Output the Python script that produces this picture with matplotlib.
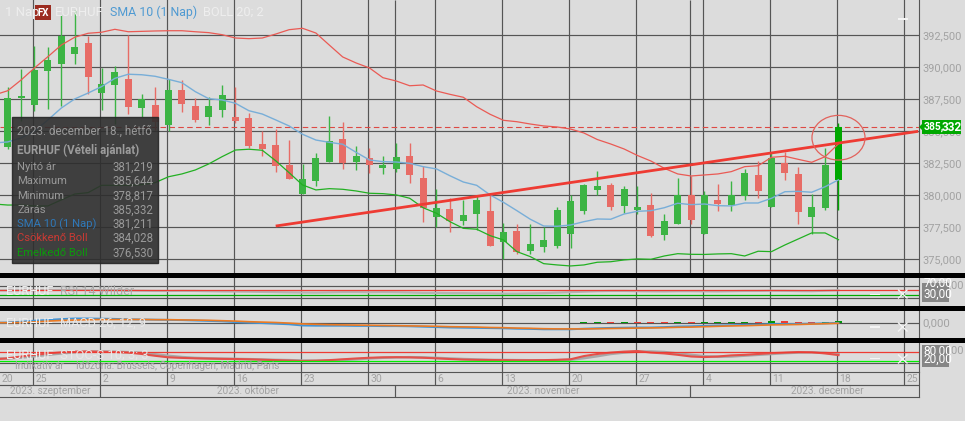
import numpy as np
import matplotlib
matplotlib.use('Agg')
import matplotlib.pyplot as plt
from matplotlib.patches import Ellipse, Rectangle, Polygon

# daily candles, 25 Sep 2023 = day 0, 18 Dec 2023 = day 60
days = np.arange(-2, 61)
opens = [383.80, 387.60, 387.06, 389.74, 390.26, 391.04, 391.90, 387.99, 388.62, 389.09, 386.82, 387.06, 385.49, 388.23, 386.98, 386.12,
         386.67, 386.12, 386.04, 384.01, 383.93, 382.37, 380.10, 381.12, 382.60, 384.40, 382.60, 382.92, 382.14, 382.06, 383.07, 381.35,
         378.31, 378.93, 377.99, 378.54, 378.78, 376.35, 377.21, 375.65, 375.96, 376.04, 376.98, 378.78, 380.42, 380.81, 379.17, 378.85,
         379.22, 376.90, 377.76, 380.03, 376.98, 379.64, 379.24, 379.95, 381.59, 379.09, 382.53, 381.67, 378.31, 379.01, 381.22]
highs = [388.46, 389.87, 391.67, 391.59, 394.09, 394.48, 392.47, 389.97, 390.10, 392.53, 387.92, 388.44, 389.09, 389.01, 387.60, 387.68,
         388.62, 388.46, 386.43, 385.02, 385.18, 384.32, 382.45, 383.33, 386.20, 385.73, 383.85, 383.70, 383.07, 384.09, 384.09, 382.29,
         380.49, 379.79, 379.64, 380.03, 380.03, 377.84, 377.76, 377.76, 377.53, 379.09, 380.03, 380.89, 381.90, 380.96, 380.73, 380.73,
         380.18, 378.54, 381.35, 381.51, 380.34, 380.89, 381.12, 382.06, 382.68, 383.31, 383.39, 382.21, 380.10, 383.70, 385.64]
lows = [383.62, 385.83, 386.59, 386.77, 386.98, 390.26, 387.92, 386.67, 385.57, 386.35, 386.12, 385.10, 385.02, 386.51, 385.73, 385.49,
        386.12, 385.65, 383.70, 383.07, 381.82, 381.28, 380.10, 380.73, 382.60, 382.06, 381.98, 381.74, 381.67, 381.82, 380.96, 377.92,
        377.53, 377.14, 377.68, 377.29, 376.04, 375.03, 375.42, 375.42, 375.57, 375.89, 375.89, 378.54, 380.03, 378.85, 378.62, 378.54,
        376.74, 376.51, 377.76, 377.76, 376.98, 378.78, 378.78, 379.64, 379.79, 379.09, 381.20, 377.76, 376.98, 378.85, 378.82]
closes = [387.60, 387.76, 389.79, 390.57, 392.47, 391.59, 389.24, 388.70, 389.63, 386.90, 387.50, 385.73, 388.23, 387.13, 385.89, 386.98,
          387.84, 385.81, 383.85, 383.62, 382.29, 381.28, 381.28, 382.92, 384.24, 382.50, 383.07, 382.37, 382.37, 382.99, 381.59, 379.01,
          379.01, 377.99, 378.46, 379.64, 376.04, 377.14, 375.57, 376.20, 376.51, 378.85, 379.56, 380.81, 380.73, 379.09, 380.49, 379.09,
          376.82, 377.99, 380.03, 378.07, 380.03, 379.32, 380.03, 381.74, 380.34, 382.92, 381.74, 378.70, 379.09, 382.37, 385.33]

# indicator lines start one day earlier
line_days = np.arange(-3, 61)
boll_up = [387.84, 388.17, 389.01, 389.95, 390.83, 391.74, 392.35, 392.66, 392.74, 392.97, 392.78, 392.81, 392.84, 392.86, 392.86, 392.78,
           392.71, 392.55, 392.29, 392.24, 392.29, 392.60, 392.94, 393.05, 392.68, 391.74, 390.81, 390.34, 389.95, 389.19, 388.93, 388.56,
           388.62, 388.15, 387.89, 387.66, 386.92, 386.33, 385.86, 385.75, 385.57, 385.42, 385.34, 385.18, 384.87, 384.36, 384.01, 383.62,
           383.11, 382.68, 382.11, 381.67, 381.51, 381.59, 381.67, 381.85, 382.24, 382.31, 382.97, 383.05, 382.81, 382.58, 383.02, 384.03]
sma10 = [384.09, 384.17, 384.48, 385.02, 385.89, 386.82, 387.53, 387.99, 388.49, 389.14, 389.46, 389.42, 389.30, 389.06, 388.80, 388.10,
         387.55, 387.45, 387.19, 386.61, 386.35, 385.89, 385.42, 384.77, 384.32, 384.14, 383.99, 383.36, 382.76, 382.63, 382.60, 382.50,
         382.24, 382.06, 381.53, 381.04, 380.78, 380.03, 379.45, 378.80, 378.13, 377.60, 377.58, 377.68, 377.94, 378.15, 378.13, 378.54,
         378.75, 378.80, 379.03, 379.38, 379.27, 379.32, 379.19, 379.17, 379.40, 379.40, 379.77, 380.28, 380.31, 380.24, 380.67, 381.21]
boll_low = [379.32, 379.24, 379.24, 379.17, 379.17, 379.64, 380.10, 380.21, 380.78, 380.78, 380.78, 380.83, 380.99, 381.45, 381.67, 381.98,
            382.45, 383.02, 383.54, 383.60, 383.52, 382.70, 381.77, 380.81, 380.42, 380.52, 380.47, 380.34, 380.16, 380.13, 380.03, 379.77,
            379.03, 378.60, 377.94, 377.42, 377.35, 376.85, 376.51, 375.60, 375.21, 374.66, 374.56, 374.48, 374.56, 374.77, 374.81, 374.95,
            375.03, 375.00, 375.26, 375.44, 375.39, 375.38, 375.42, 375.44, 375.26, 375.63, 375.60, 376.12, 376.59, 377.06, 377.06, 376.53]

# hand drawn objects on the chart
trend_days = [18, 65.95]
trend_prices = [377.60, 385.0]
circle_day, circle_price = 60, 384.5
last_price = 385.332

rsi = [64, 64, 65, 66, 67, 68, 69, 68, 67, 66, 64, 62, 60, 60, 61, 60, 58, 56, 55, 54, 52, 50, 48, 47, 46, 48, 50, 50, 49, 50, 49, 47,
       44, 44, 42, 42, 40, 40, 38, 38, 40, 42, 46, 50, 54, 58, 60, 60, 58, 57, 56, 58, 58, 57, 56, 58, 60, 60, 62, 61, 59, 58, 62, 66]
macd = [0.3, 0.4, 0.8, 1.3, 1.7, 2.1, 2.4, 2.4, 2.3, 2.2, 2.0, 1.9, 1.8, 1.7, 1.6, 1.4, 1.2, 1.0, 0.6, 0.3, 0.1, -0.2, -0.5, -1.1, -1.2, -1.2,
        -1.2, -1.3, -1.3, -1.4, -1.4, -1.5, -1.7, -1.9, -2.1, -2.2, -2.3, -2.4, -2.5, -2.7, -2.8, -3.0, -3.0, -3.0, -2.7, -2.5, -2.3, -2.2,
        -2.1, -2.1, -1.9, -1.6, -1.5, -1.3, -1.1, -1.0, -0.8, -0.7, -0.4, -0.4, -0.3, -0.2, 0.0, 0.2]
macd_signal = [0.3, 0.3, 0.4, 0.7, 1.1, 1.4, 1.6, 1.8, 1.9, 1.9, 1.9, 1.9, 1.8, 1.8, 1.7, 1.6, 1.5, 1.3, 1.1, 0.8, 0.6, 0.4, 0.1, -0.3, -0.5,
               -0.7, -0.8, -0.9, -1.0, -1.1, -1.2, -1.3, -1.4, -1.5, -1.7, -1.8, -1.9, -2.1, -2.2, -2.4, -2.5, -2.7, -2.8, -2.8, -2.8, -2.7,
               -2.6, -2.5, -2.4, -2.3, -2.2, -2.0, -1.9, -1.7, -1.5, -1.3, -1.2, -1.0, -0.8, -0.7, -0.6, -0.4, -0.2, 0.0]
hist_days = np.arange(41, 61)
hist_values = [0.65, 0.65, 0.65, 0.65, 0.65, 0.65, 0.65, 0.65, 0.65, 0.65, 0.65, 0.65, 0.65, 0.65, 1.15, 1.15, 0.65, 0.65, 0.65, 1.15]
hist_colors = ['g', 'g', 'r', 'g', 'r', 'r', 'r', 'g', 'r', 'g', 'g', 'g', 'g', 'r', 'g', 'r', 'r', 'r', 'g', 'g']
stoch_k = [30, 37, 50, 62, 72, 80, 85, 86, 84, 82, 78, 68, 55, 44, 40, 37, 35, 33, 32, 30, 27, 24, 21, 18, 20, 24, 30, 36, 41, 44, 45, 44, 41,
           37, 32, 28, 26, 25, 24, 23, 23, 24, 26, 30, 53, 68, 78, 85, 89, 78, 72, 62, 50, 46, 50, 58, 62, 68, 74, 78, 82, 80, 72, 60]
stoch_d = [36, 35, 42, 52, 62, 72, 80, 84, 85, 84, 81, 76, 66, 55, 46, 40, 37, 35, 33, 31, 29, 26, 24, 21, 20, 21, 25, 30, 36, 41, 44, 45, 44,
           40, 36, 32, 29, 26, 25, 24, 23, 23, 24, 27, 38, 52, 68, 78, 85, 86, 82, 72, 62, 52, 48, 50, 56, 62, 68, 74, 78, 80, 76, 68]

price_ticks = [375, 377.5, 380, 382.5, 385, 387.5, 390, 392.5]
week_days = [0, 5, 10, 15, 20, 25, 30, 35, 40, 45, 50, 55, 60, 65]
week_labels = ['25', '2', '9', '16', '23', '30', '6', '13', '20', '27', '4', '11', '18', '25']
month_days = [5, 27, 49]
month_centers = [1.16, 15.93, 37.95, 59.2]
month_labels = ['2023. szeptember', '2023. október', '2023. november', '2023. december']

BG = '#dcdcdc'
GRID = '#555555'
GREY = '#a2a2a2'
UP = '#3cb444'
DOWN = '#e76c66'
RED = '#ee3b33'
W, H = 965, 421
PX = 1 / 13.4   # one pixel in days
XLIM = (-34.5 * PX, (919.3 - 34.5) * PX)

plt.rcParams['font.family'] = ['Roboto', 'DejaVu Sans']
fig = plt.figure(figsize=(W / 100, H / 100), dpi=100, facecolor=BG)


def fx(x):
    return x / W


def fy(y):
    return 1 - y / H


def pane(top, bottom, ylim):
    ax = fig.add_axes([0, fy(bottom), 919.3 / W, (bottom - top) / H])
    ax.set_xlim(*XLIM)
    ax.set_ylim(*ylim)
    ax.patch.set_alpha(0)
    for name, sp in ax.spines.items():
        sp.set_visible(name == 'right')
        sp.set_color(GRID)
        sp.set_linewidth(0.8)
    ax.set_xticks([d - 0.09 for d in week_days])
    ax.tick_params(length=0, labelbottom=False, labelleft=False)
    ax.set_yticks([])
    ax.grid(True, axis='x', color=GRID, lw=0.85)
    ax.set_axisbelow(True)
    return ax


# main chart
ax = pane(0, 273, (373.93, 395.26))
ax.set_yticks(price_ticks)
ax.grid(True, axis='y', color=GRID, lw=0.85)
ax.yaxis.tick_right()
ax.set_yticklabels([('%.3f' % t).replace('.', ',') for t in price_ticks], color=GREY, fontsize=7.9)
ax.tick_params(axis='y', pad=2.5, length=0, labelleft=False, labelright=True)
ax.vlines([m - 0.09 for m in month_days[1:]], 373.93, 395.26, color=GRID, lw=0.85, zorder=1)
ax.axhline(last_price, color='#dd4a44', lw=0.8, ls=(0, (5, 3)), zorder=2)

colors = []
for i in range(len(days)):
    colors.append(UP if closes[i] >= opens[i] else DOWN)
colors[-1] = '#00a800'
ax.vlines(days, lows, highs, color=colors, lw=1.0, zorder=3)
ax.bar(days, np.array(closes) - np.array(opens), bottom=opens, width=0.52, color=colors, zorder=3)

ax.plot(line_days, boll_up, color='#ea5a54', lw=0.9, zorder=4)
ax.plot(line_days, sma10, color='#78aed8', lw=1.0, zorder=4)
ax.plot(line_days, boll_low, color='#22b022', lw=0.9, zorder=4)
ax.plot(trend_days, trend_prices, color=RED, lw=2.0, zorder=5, solid_capstyle='butt')
ax.add_patch(Ellipse((circle_day, circle_price), 3.96, 3.49, fill=False, ec='#e2625c', lw=0.9, zorder=5))

# RSI
rsi_ax = pane(278.3, 305.7, (-60.2, 162.6))
rsi_ax.set_yticks([0, 100])
rsi_ax.grid(True, axis='y', color=GRID, lw=0.85)
rsi_ax.plot(line_days, rsi, color='#b4b4b4', lw=1.6, zorder=2)
rsi_ax.axhline(70, color=RED, lw=0.9, zorder=3)
rsi_ax.axhline(30, color='#00aa00', lw=0.9, zorder=3)

# MACD
macd_ax = pane(310.7, 337.7, (-7.2, 6.3))
macd_ax.set_yticks([0])
macd_ax.grid(True, axis='y', color=GRID, lw=0.85)
macd_ax.bar(hist_days, hist_values, width=0.52,
            color=['#00960a' if c == 'g' else RED for c in hist_colors], zorder=2)
macd_ax.plot(line_days, macd, color='#3f94d8', lw=1.4, zorder=3)
macd_ax.plot(line_days, macd_signal, color='#ec7a22', lw=1.2, zorder=4)

# stochastic
stoch_ax = pane(342.7, 372, (-60.7, 148.6))
stoch_ax.axhline(5.7, color=GRID, lw=0.85)
stoch_ax.plot(line_days, stoch_d, color='#a8a8a8', lw=1.8, zorder=2)
stoch_ax.plot(line_days, stoch_k, color='#e4504a', lw=1.5, zorder=3)
stoch_ax.axhline(80, color=RED, lw=0.9, zorder=4)
stoch_ax.axhline(20, color='#00ee00', lw=0.9, zorder=4)

# date rows
date_ax = pane(372, 397, (0, 2))
date_ax.set_xticks([])
date_ax.grid(False)
for name in ('bottom', 'top'):
    date_ax.spines[name].set_visible(True)
date_ax.axhline(0.96, color=GRID, lw=0.85)
date_ax.vlines([w - 0.09 for w in week_days], 0.96, 2, color=GRID, lw=0.85)
date_ax.vlines([m - 0.09 for m in month_days], 0, 0.96, color=GRID, lw=0.85)
date_ax.text(-2.47, 1.48, '20', color=GREY, fontsize=7.5, va='center')
for d, lab in zip(week_days, week_labels):
    date_ax.text(d + 0.07, 1.48, lab, color=GREY, fontsize=7.5, va='center')
for d, lab in zip(month_centers, month_labels):
    date_ax.text(d, 0.47, lab, color=GREY, fontsize=7.2, va='center', ha='center')

# black separators
for top in (273.3, 305.7, 337.7):
    fig.add_artist(Rectangle((0, fy(top + 5)), 1, 5 / H, transform=fig.transFigure, color='black', lw=0, zorder=6))


def put(x, y, s, **kw):
    kw.setdefault('va', 'center')
    kw.setdefault('zorder', 12)
    return fig.text(fx(x), fy(y), s, **kw)


def box(x0, y0, x1, y1, color, zorder=8):
    fig.add_artist(Rectangle((fx(x0), fy(y1)), (x1 - x0) / W, (y1 - y0) / H,
                             transform=fig.transFigure, facecolor=color, lw=0, zorder=zorder))


# header
put(5, 12.5, '1 Nap', color='#eeeeee', fontsize=9.4)
box(35, 5, 51, 20, '#9c2c20', zorder=11)
put(43, 12.7, 'FX', color='white', fontsize=7, fontweight='bold', ha='center')
put(55, 12.5, 'EURHUF', color='#eeeeee', fontsize=9.4)
put(110, 12.5, 'SMA 10 (1 Nap)', color='#4f9ad2', fontsize=8.9)
put(203, 12.5, 'BOLL 20; 2', color='#eeeeee', fontsize=9.2)

# tooltip
fig.add_artist(Rectangle((fx(12.3), fy(263.3)), 146 / W, 146 / H, transform=fig.transFigure,
                         facecolor='#2e2e2e', edgecolor='#262626', lw=1, alpha=0.9, zorder=9))
put(17, 131, '2023. december 18., hétfő', color='#999999', fontsize=8.4)
put(17, 150, 'EURHUF (Vételi ajánlat)', color='#9c9c9c', fontsize=8.3, fontweight='bold')
tip_rows = [('Nyitó ár', '381,219', '#999999', 167.3), ('Maximum', '385,644', '#999999', 181.3),
            ('Minimum', '378,817', '#999999', 196), ('Zárás', '385,332', '#999999', 210),
            ('SMA 10 (1 Nap)', '381,211', '#2f78b8', 224), ('Csökkenő Boll', '384,028', '#c83a34', 238),
            ('Emelkedő Boll', '376,530', '#0c9a0c', 253)]
for name, value, col, y in tip_rows:
    put(17, y, name, color=col, fontsize=8.1)
    put(153.5, y, value, color='#999999', fontsize=8.3, ha='right')

# pane captions
put(6, 291.7, 'EURHUF', color='#eeeeee', fontsize=9.2)
put(60, 291.7, 'RSI 14 Wilder', color='#a8a8a8', fontsize=9.0)
put(6, 323.3, 'EURHUF', color='#eeeeee', fontsize=9.2)
put(60, 323.3, 'MACD 26, 12, 9', color='#e8e8e8', fontsize=9.2)
put(6, 355.7, 'EURHUF', color='#eeeeee', fontsize=9.2)
put(60, 355.7, 'STOC-S 10; 3; 3', color='#e8e8e8', fontsize=9.4)
put(15, 366, 'Indikatív ár', color='#a0a0a0', fontsize=7.2)
put(76, 366, 'Időzóna: Brussels, Copenhagen, Madrid, Paris', color='#a0a0a0', fontsize=7.2)

# current price tag
fig.add_artist(Polygon([(fx(919), fy(127)), (fx(923), fy(123)), (fx(923), fy(131))],
                       transform=fig.transFigure, facecolor='#00a800', lw=0, zorder=8))
box(922.3, 120, 961, 134, '#00a800')
put(923.5, 127, '385,', color='white', fontsize=7.4, fontweight='bold')
put(941.5, 127.3, '332', color='white', fontsize=8.6, fontweight='bold')

# right hand labels of the lower panes
put(930, 285, '100,00', color=GREY, fontsize=8, zorder=7)
box(922, 283, 949.3, 302, '#868686', zorder=7.2)
put(923.5, 283.5, '70,00', color='white', fontsize=8.6, zorder=7.5)
box(922, 288, 949.3, 302, '#868686')
put(923.5, 294, '30,00', color='white', fontsize=8.6)
put(922, 323, '0,000', color=GREY, fontsize=8.2)
put(930, 350, '100,00', color=GREY, fontsize=8, zorder=7)
box(922, 345, 949.3, 367.3, '#868686', zorder=7.2)
put(923.5, 351, '80,00', color='white', fontsize=8.6, zorder=7.5)
box(922, 354, 949.3, 367.3, '#868686')
put(923.5, 359.5, '20,00', color='white', fontsize=8.6)

# small pane buttons
for x0, x1, y in [(898, 908, 18.7), (870, 880, 294.3), (870, 880, 327), (870, 880, 358.3)]:
    box(x0, y - 0.8, x1, y + 0.8, '#f4f4f4', zorder=11)
for y in (294, 327, 359):
    fig.add_artist(plt.Line2D([fx(898.5), fx(907)], [fy(y - 4), fy(y + 4)], color='#f4f4f4', lw=1, zorder=11))
    fig.add_artist(plt.Line2D([fx(898.5), fx(907)], [fy(y + 4), fy(y - 4)], color='#f4f4f4', lw=1, zorder=11))

fig.savefig('out.png', dpi=100, facecolor=BG)
